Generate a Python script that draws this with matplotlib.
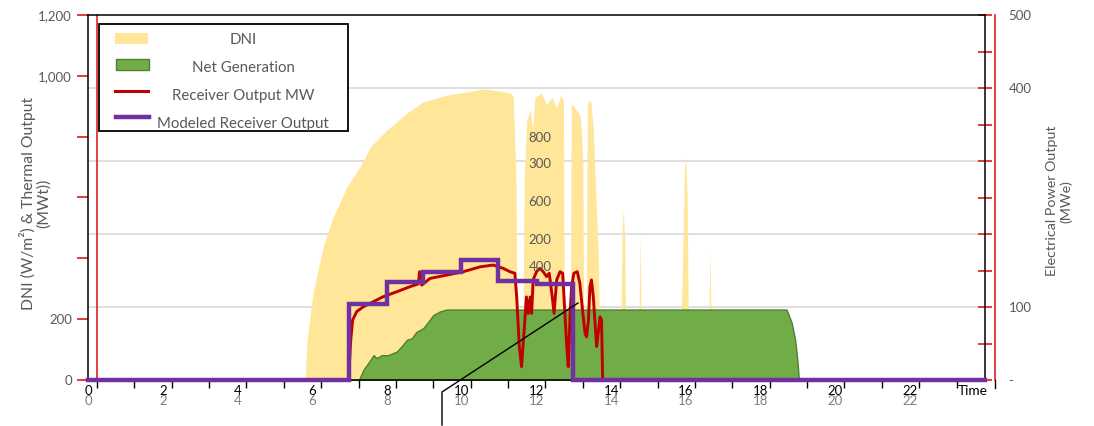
import matplotlib
matplotlib.use('Agg')
import matplotlib.pyplot as plt
from matplotlib.lines import Line2D
from matplotlib.patches import Rectangle

plt.rcParams['font.family'] = ['Lato', 'DejaVu Sans']

# ---------------- data ----------------
dni_hours = [0, 5.81, 5.86, 6.02, 6.29, 6.56, 6.93, 7.28, 7.55, 8.0, 8.54, 8.96,
             9.61, 10.14, 10.57, 11.02, 11.29, 11.38, 11.45, 11.49, 11.63, 11.67,
             11.74, 11.83, 11.90, 11.96, 12.14, 12.27, 12.41, 12.54, 12.65, 12.72,
             12.75, 12.90, 12.93, 13.06, 13.18, 13.24, 13.27, 13.32, 13.36, 13.45,
             13.52, 13.59, 13.66, 13.70, 13.76, 13.78, 13.80, 14.24, 14.29, 14.32,
             14.36, 14.40, 14.72, 14.77, 14.82, 15.83, 15.90, 15.96, 15.99, 16.03,
             16.08, 16.58, 16.64, 16.70, 24]
dni_values = [0, 0, 131, 286, 437, 536, 635, 701, 766, 822, 878, 914,
              937, 947, 957, 950, 944, 931, 657, 0, 0, 657,
              855, 888, 822, 931, 942, 904, 931, 893, 937, 920,
              0, 0, 910, 888, 866, 712, 0, 0, 910, 920,
              822, 603, 384, 0, 0, 329, 0, 0, 480, 560,
              470, 0, 0, 480, 0, 0, 350, 700, 730, 600,
              0, 0, 420, 0, 0]

gen_hours = [0, 7.25, 7.37, 7.55, 7.64, 7.72, 7.86, 8.03, 8.26, 8.39, 8.53, 8.66,
             8.79, 8.97, 9.11, 9.24, 9.42, 9.60, 12.0, 15.0, 18.69, 18.83, 18.92,
             18.98, 19.02, 24]
gen_values = [0, 0, 14, 27, 34, 30, 34, 34, 39, 46, 55, 57,
              66, 71, 80, 89, 94, 96.5, 96.5, 96.5, 96.5, 78, 55,
              27, 0, 0]

rec_hours = [0, 6.97, 7.03, 7.08, 7.19, 7.37, 7.63, 7.90, 8.26, 8.62, 8.84, 8.87,
             8.93, 9.15, 9.60, 10.04, 10.49, 10.84, 11.11, 11.29, 11.42, 11.47,
             11.54, 11.60, 11.67, 11.73, 11.78, 11.83, 11.87, 11.91, 12.00, 12.09,
             12.18, 12.27, 12.34, 12.41, 12.47, 12.54, 12.63, 12.70, 12.76, 12.81,
             12.85, 12.90, 12.94, 13.00, 13.09, 13.16, 13.24, 13.30, 13.34, 13.39,
             13.43, 13.47, 13.52, 13.56, 13.61, 13.65, 13.70, 13.74, 13.77, 24]
rec_values = [0, 0, 131, 197, 225, 241, 257, 274, 290, 307, 316, 356,
              312, 334, 345, 356, 372, 378, 367, 356, 351, 273,
              110, 44, 164, 273, 219, 273, 219, 329, 356, 367,
              356, 340, 351, 285, 219, 329, 356, 351, 219, 110,
              44, 219, 307, 351, 356, 318, 219, 153, 142, 197,
              307, 329, 274, 197, 110, 153, 208, 197, 0, 0]

model_hours = [0, 6.97, 7.99, 8.97, 9.97, 10.98, 12.0, 12.97, 24]
model_values = [0, 250, 323, 356, 395, 325, 316, 0, 0]

left_ticks = [0, 200, 400, 600, 800, 1000, 1200]
left_labels = ['0', '200', '', '', '', '1,000', '1,200']
right_ticks = [0, 50, 100, 150, 200, 250, 300, 350, 400, 450, 500]
right_labels = ['-', '', '100', '', '', '', '', '', '400', '', '500']
hour_ticks = [0, 2, 4, 6, 8, 10, 12, 14, 16, 18, 20, 22]
stray_labels = ['800', '300', '600', '200', '400']

# ---------------- figure ----------------
W, H = 1094, 426
fig = plt.figure(figsize=(W / 100, H / 100), dpi=100)
rect = [88 / W, (H - 380) / H, (985 - 88) / W, (380 - 15) / H]

def fx(x):
    return x / W

def fy(y):
    return (H - y) / H

GRAY = '#595959'
RED = '#C00000'
TICKRED = '#E02B2B'

ax_grid = fig.add_axes(rect, zorder=0)
ax_dni = fig.add_axes(rect, zorder=1)
ax_gen = fig.add_axes(rect, zorder=2)
ax_main = fig.add_axes(rect, zorder=3)

for a in (ax_grid, ax_dni, ax_gen, ax_main):
    a.set_xlim(0, 24)
for a in (ax_dni, ax_gen, ax_main):
    a.patch.set_visible(False)
for a in (ax_grid, ax_dni, ax_gen):
    for s in a.spines.values():
        s.set_visible(False)

ax_grid.set_ylim(0, 500)
ax_dni.set_ylim(0, 1200)
ax_gen.set_ylim(0, 500)
ax_main.set_ylim(0, 1200)

# grid (right-axis gridlines)
ax_grid.set_yticks([100, 200, 300, 400])
ax_grid.yaxis.grid(True, color='#D9D9D9', lw=1.2)
ax_grid.tick_params(axis='y', left=False, labelleft=False)
# black hour labels
ax_grid.set_xticks(hour_ticks, [str(h) for h in hour_ticks])
ax_grid.tick_params(axis='x', length=0, pad=3.5, labelsize=9.5, labelcolor='black')

# gray hour labels
ax_dni.set_xticks(hour_ticks, [str(h) for h in hour_ticks])
ax_dni.tick_params(axis='x', length=0, pad=11, labelsize=9.5, labelcolor='#7F7F7F')
ax_dni.tick_params(axis='y', left=False, labelleft=False)

# DNI area
ax_dni.fill_between(dni_hours, dni_values, color='#FFE699', lw=0)

# Net generation (right axis)
ax_gen.fill_between(gen_hours, gen_values, facecolor='#70AD47',
                    edgecolor='#507E32', lw=1)
ax_gen.tick_params(axis='x', bottom=False, labelbottom=False)
ax_gen.yaxis.tick_right()
ax_gen.set_yticks(right_ticks, right_labels)
ax_gen.tick_params(axis='y', right=True, left=False, direction='inout', length=10,
                   width=1.3, color=TICKRED, labelcolor=GRAY, labelsize=9.5, pad=12)
ax_gen.yaxis.set_label_position('right')
ax_gen.set_ylabel('Electrical Power Output\n(MWe)', color=GRAY, fontsize=10.3,
                  linespacing=1.15)
ax_gen.yaxis.set_label_coords((1046 - 88) / 897, 0.49)

# Receiver output and modeled output (left axis)
ax_main.plot(rec_hours, rec_values, color=RED, lw=2.1, zorder=3)
ax_main.plot(model_hours, model_values, color='#7030A0', lw=3.2,
             drawstyle='steps-post', zorder=4, clip_on=False,
             solid_joinstyle='miter')

ax_main.set_yticks(left_ticks, left_labels)
ax_main.tick_params(axis='y', direction='out', length=8, width=1.3,
                    color=TICKRED, labelcolor=GRAY, labelsize=9.5, pad=3.5)
ax_main.set_xticks([k + 0.24 for k in range(24)], [''] * 24)
ax_main.tick_params(axis='x', direction='out', length=6, width=1, color='black')
for s in ax_main.spines.values():
    s.set_color('black')
    s.set_linewidth(1.1)
ax_main.set_ylabel('DNI (W/m\u00b2) & Thermal Output\n(MWt))', color=GRAY,
                   fontsize=11.3, linespacing=1.1)
ax_main.yaxis.set_label_coords((51 - 88) / 897, 0.485)

# red secondary axis lines
fig.add_artist(Line2D([fx(96.5), fx(96.5)], [fy(15), fy(380)], color='#E02020', lw=1.2))
fig.add_artist(Line2D([fx(995), fx(995)], [fy(15), fy(380)], color='#E02020', lw=1.2))
fig.add_artist(Line2D([fx(995), fx(995)], [fy(380), fy(388)], color='black', lw=1))

# Time label
fig.text(fx(958), fy(391), 'Time', ha='left', va='center', fontsize=9.8, color='black')

# stray tick labels in the plot area
stray_y = [138, 164, 202, 240, 267]
for lab, yy in zip(stray_labels, stray_y):
    fig.text(fx(540), fy(yy), lab, ha='center', va='center', fontsize=9.5,
             color=GRAY, zorder=6)

# leader line
fig.add_artist(Line2D([fx(442), fx(442), fx(578)], [fy(425), fy(392), fy(303)],
                      color='black', lw=1, zorder=6))

# legend (manual, centered texts)
fig.add_artist(Rectangle((fx(99), fy(131)), fx(348) - fx(99), fy(24) - fy(131),
                         facecolor='white', edgecolor='black', lw=1.3, zorder=7))
fig.add_artist(Rectangle((fx(115), fy(44)), fx(148) - fx(115), fy(33) - fy(44),
                         facecolor='#FFE699', edgecolor='none', zorder=8))
fig.add_artist(Rectangle((fx(116), fy(70)), fx(149) - fx(116), fy(59) - fy(70),
                         facecolor='#70AD47', edgecolor='#507E32', lw=1, zorder=8))
fig.add_artist(Line2D([fx(115), fx(148)], [fy(91), fy(91)], color=RED, lw=2.2, zorder=8))
fig.add_artist(Line2D([fx(116), fx(149)], [fy(117), fy(117)], color='#7030A0', lw=3.2, zorder=8))
leg_labels = ['DNI', 'Net Generation', 'Receiver Output MW', 'Modeled Receiver Output']
leg_y = [40, 68, 96, 124]
for lab, yy in zip(leg_labels, leg_y):
    fig.text(fx(243), fy(yy), lab, ha='center', va='center', fontsize=10.8,
             color=GRAY, zorder=9)

fig.savefig('out.png', dpi=100)
